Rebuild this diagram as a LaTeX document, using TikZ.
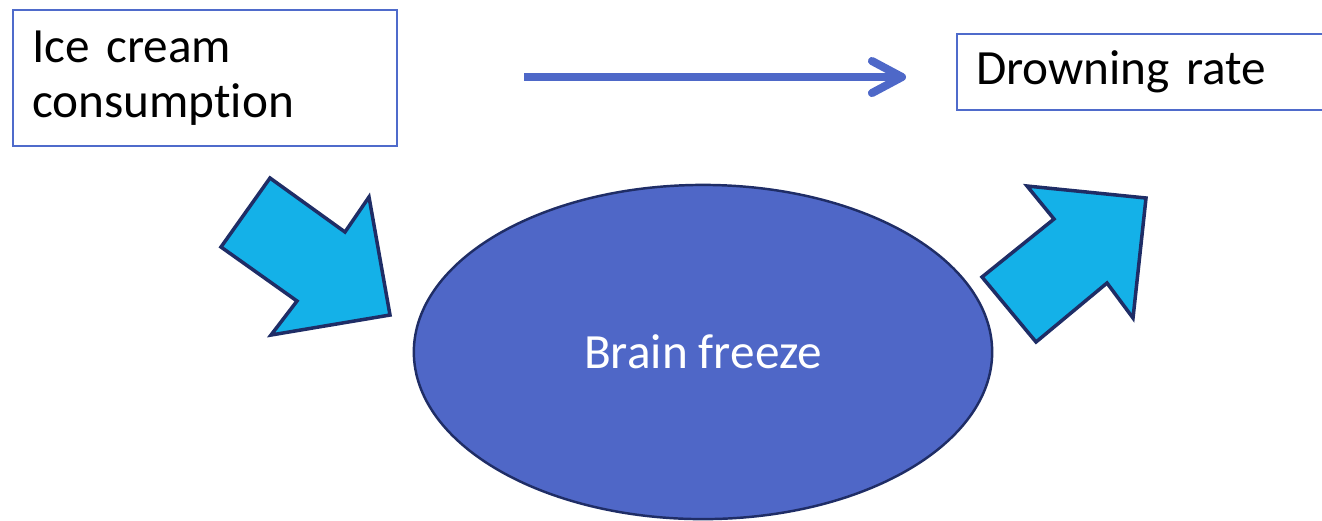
\documentclass[tikz,border=0pt]{standalone}
\usepackage{fontspec}
\setmainfont[Ligatures=NoCommon]{Carlito}
\usetikzlibrary{arrows.meta, positioning, shapes.geometric}
\definecolor{BoxBlue}{HTML}{4F6BCB}
\definecolor{LinkBlue}{HTML}{4E68C8}
\definecolor{BlobBlue}{HTML}{4F67C7}
\definecolor{EdgeNavy}{HTML}{1F2D66}
\definecolor{ArrowCyan}{HTML}{14B1E8}
\tikzset{
  % caselle di testo
  box/.style={draw=BoxBlue,line width=0.6pt,rectangle,align=left,anchor=north west,
    inner xsep=0.19cm,inner ysep=0pt,font=\fontsize{14pt}{15.6pt}\selectfont},
  % nodo centrale
  blob/.style={ellipse,draw=EdgeNavy,fill=BlobBlue,line width=0.7pt,inner sep=0pt,
    text=white,font=\fontsize{14pt}{15.6pt}\selectfont},
  % frecce
  link/.style={LinkBlue,line width=2.3pt,-{Straight Barb[round,length=0.3cm,width=0.32cm]}},
  fat arrow/.style={draw=EdgeNavy,fill=ArrowCyan,line width=1pt,line join=miter}
}

\begin{document}
\begin{tikzpicture}[x=0.01cm,y=-0.01cm]
    \useasboundingbox (0,0) rectangle (1322,520);
    % caselle
    \node[box,minimum width=3.84cm,minimum height=1.36cm,text width=3.46cm] (ice) at (12,9)
      {Ice cream\\consumption};
    \node[box,minimum width=3.80cm,minimum height=0.76cm,text width=3.42cm] (drown) at (956,33)
      {Drowning rate};
    % ellisse
    \node[blob,minimum width=5.78cm,minimum height=3.34cm] (freeze) at (703,352) {Brain freeze};
    % freccia sottile
    \coordinate (from) at (524,77);
    \coordinate (to) at (906,77);
    \draw[link] (from) -- (to);
    % frecce grosse
    \draw[fat arrow] (270,178) -- (345,232) -- (369,197) -- (390,315)
      -- (271,335) -- (297,301) -- (221,247) -- cycle;
    \draw[fat arrow] (1036,342) -- (982,277) -- (1054,219) -- (1027,186)
      -- (1146,198) -- (1133,318) -- (1107,283) -- cycle;
  \end{tikzpicture}
\end{document}
